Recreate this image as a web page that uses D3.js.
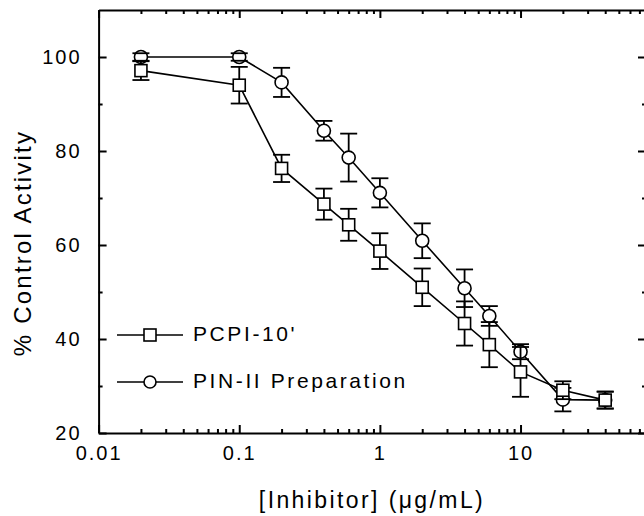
<!DOCTYPE html>
<html>
<head>
<meta charset="utf-8">
<script src="https://cdn.jsdelivr.net/npm/d3@7"></script>
<style>
  body { margin: 0; background: #fff; }
  svg text { font-family: "Liberation Sans", Arial, sans-serif; fill: #000; }
</style>
</head>
<body>
<div id="chart"></div>
<script>
// concentrations (ug/mL)
const conc = [0.02, 0.1, 0.2, 0.4, 0.6, 1, 2, 4, 6, 10, 20, 40];
// PCPI-10' (squares)
const pcpiMean = [97.1, 94.0, 76.3, 68.7, 64.3, 58.7, 51.0, 43.3, 38.8, 33.0, 29.1, 27.0];
const pcpiErr  = [2.0, 3.9, 2.9, 3.3, 3.4, 3.8, 4.0, 4.7, 4.8, 5.3, 1.9, 1.8];
// PIN-II Preparation (circles)
const pinMean = [100, 100, 94.6, 84.3, 78.6, 71.1, 60.9, 50.8, 44.9, 37.3, 27.1, 27.0];
const pinErr  = [0.8, 0.8, 3.1, 2.1, 5.1, 3.1, 3.7, 4.0, 2.1, 1.6, 2.5, 1.8];

const xMajor = [0.01, 0.1, 1, 10];
const xTickLabels = ["0.01", "0.1", "1", "10"];
const yMajor = [20, 40, 60, 80, 100];
const yMinor = [30, 50, 70, 90];
const legendLabels = ["PCPI-10'", "PIN-II Preparation"];

const width = 644, height = 516;
const plot = {left: 98.6, right: 646, top: 10, bottom: 433};

const svg = d3.select("#chart").append("svg")
    .attr("width", width).attr("height", height);

const x = d3.scaleLog().domain([0.01, 78]).range([plot.left, plot.right]);
const y = d3.scaleLinear().domain([20, 110]).range([plot.bottom, plot.top]);

// all log ticks 1..9 per decade
const xAll = [];
for (let d = 0.01; d < 80; d *= 10) {
    for (let k = 1; k <= 9; k++) {
        const v = +(k * d).toPrecision(3);
        if (v <= 78) xAll.push(v);
    }
}
const isMajorX = v => xMajor.some(m => Math.abs(m - v) < 1e-9);
const yAll = yMajor.concat(yMinor).sort((a, b) => a - b);
const isMajorY = v => yMajor.includes(v);

const fmtX = v => { const i = xMajor.findIndex(m => Math.abs(m - v) < 1e-9); return i >= 0 ? xTickLabels[i] : ""; };

// bottom axis
const gB = svg.append("g").attr("transform", `translate(0,${plot.bottom})`)
    .call(d3.axisBottom(x).tickValues(xAll).tickFormat(fmtX).tickSizeOuter(0).tickSizeInner(-8).tickPadding(13));
gB.selectAll(".tick line").attr("y2", d => isMajorX(d) ? -8 : -4);
// top axis
const gT = svg.append("g").attr("transform", `translate(0,${plot.top})`)
    .call(d3.axisTop(x).tickValues(xAll).tickFormat("").tickSizeOuter(0));
gT.selectAll(".tick line").attr("y2", d => isMajorX(d) ? 8 : 4);
// left axis
const gL = svg.append("g").attr("transform", `translate(${plot.left},0)`)
    .call(d3.axisLeft(y).tickValues(yAll).tickFormat(d => isMajorY(d) ? d : "").tickSizeOuter(0).tickPadding(11));
gL.selectAll(".tick line").attr("x2", d => isMajorY(d) ? 8 : 4);
// right axis
const gR = svg.append("g").attr("transform", `translate(${plot.right},0)`)
    .call(d3.axisRight(y).tickValues(yAll).tickFormat("").tickSizeOuter(0));
gR.selectAll(".tick line").attr("x2", d => isMajorY(d) ? -8 : -4);

[gB, gT, gL, gR].forEach(g => {
    g.select(".domain").attr("stroke", "#000").attr("stroke-width", 2);
    g.selectAll(".tick line").attr("stroke", "#000").attr("stroke-width", 2);
    g.selectAll("text").attr("font-size", 20).style("letter-spacing", "2px")
        .attr("font-family", "Liberation Sans, Arial, sans-serif");
});
gB.selectAll("text").attr("dy", null).attr("y", 27);
gL.selectAll("text").attr("dy", null).attr("y", 6);

// axis titles
svg.append("text")
    .attr("transform", "translate(31,243) rotate(-90)")
    .attr("text-anchor", "middle")
    .attr("font-size", 24).style("letter-spacing", "2.2px")
    .text("% Control Activity");
svg.append("text")
    .attr("x", 372).attr("y", 508)
    .attr("text-anchor", "middle")
    .attr("font-size", 23).style("letter-spacing", "2.4px")
    .text("[Inhibitor] (\u03BCg/mL)");

const line = d3.line().x(d => x(d[0])).y(d => y(d[1]));

function drawSeries(means, errs, shape) {
    const pts = conc.map((c, i) => [c, means[i], errs[i]]);
    const g = svg.append("g");
    g.append("path").datum(pts).attr("d", line)
        .attr("fill", "none").attr("stroke", "#000").attr("stroke-width", 1.6);
    const half = shape === "square" ? 6 : 6.5;
    const mk = g.selectAll(".mk").data(pts).enter();
    if (shape === "square") {
        mk.append("rect")
            .attr("x", d => x(d[0]) - half).attr("y", d => y(d[1]) - half)
            .attr("width", half * 2).attr("height", half * 2)
            .attr("fill", "#fff").attr("stroke", "#000").attr("stroke-width", 1.6);
    } else {
        mk.append("circle")
            .attr("cx", d => x(d[0])).attr("cy", d => y(d[1])).attr("r", half)
            .attr("fill", "#fff").attr("stroke", "#000").attr("stroke-width", 1.6);
    }
    // error bars: stems outside the marker, caps on top
    const eb = g.selectAll(".eb").data(pts).enter().append("g")
        .attr("stroke", "#000").attr("stroke-width", 1.8);
    eb.each(function (d) {
        const cx = x(d[0]), cy = y(d[1]);
        const yt = y(d[1] + d[2]), yb = y(d[1] - d[2]);
        const s = d3.select(this);
        if (cy - yt > half) s.append("line").attr("x1", cx).attr("x2", cx).attr("y1", cy - half).attr("y2", yt);
        if (yb - cy > half) s.append("line").attr("x1", cx).attr("x2", cx).attr("y1", cy + half).attr("y2", yb);
        s.append("line").attr("x1", cx - 8.5).attr("x2", cx + 8.5).attr("y1", yt).attr("y2", yt);
        s.append("line").attr("x1", cx - 8.5).attr("x2", cx + 8.5).attr("y1", yb).attr("y2", yb);
    });
}

drawSeries(pinMean, pinErr, "circle");
drawSeries(pcpiMean, pcpiErr, "square");

// legend
const legY = [335, 382];
const legShapes = ["square", "circle"];
const leg = svg.append("g");
legShapes.forEach((sh, i) => {
    const ly = legY[i];
    leg.append("line").attr("x1", 117).attr("x2", 183).attr("y1", ly).attr("y2", ly)
        .attr("stroke", "#000").attr("stroke-width", 1.6);
    if (sh === "square") {
        leg.append("rect").attr("x", 144).attr("y", ly - 6).attr("width", 12).attr("height", 12)
            .attr("fill", "#fff").attr("stroke", "#000").attr("stroke-width", 1.6);
    } else {
        leg.append("circle").attr("cx", 150).attr("cy", ly).attr("r", 6)
            .attr("fill", "#fff").attr("stroke", "#000").attr("stroke-width", 1.6);
    }
    leg.append("text").attr("x", 193).attr("y", ly + 6)
        .attr("font-size", 21).style("letter-spacing", "2.6px")
        .text(legendLabels[i]);
});
</script>
</body>
</html>
